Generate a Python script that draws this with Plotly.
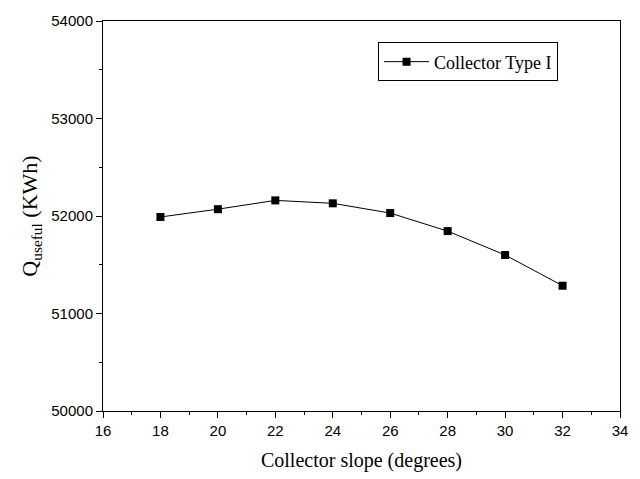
import plotly.graph_objects as go

slope = [18, 20, 22, 24, 26, 28, 30, 32]
q_useful = [51990, 52070, 52160, 52130, 52030, 51845, 51600, 51285]
series_name = "Collector Type I"

fig = go.Figure()
fig.add_trace(go.Scatter(
    x=slope, y=q_useful, mode="lines+markers", name=series_name,
    line=dict(color="black", width=1),
    marker=dict(symbol="square", size=8, color="black"),
))

axis_common = dict(
    showline=True, linecolor="black", linewidth=1, mirror=True,
    ticks="outside", ticklen=6, tickcolor="black", showgrid=False, zeroline=False,
    tickformat="d",
    tickfont=dict(family="Liberation Sans, Arial", size=15, color="black"),
)
fig.update_xaxes(
    range=[16, 34], dtick=2, tick0=16,
    minor=dict(ticks="outside", ticklen=3, dtick=1, tickcolor="black"),
    title=dict(text="Collector slope (degrees)", font=dict(family="Liberation Serif, Times New Roman", size=20, color="black"), standoff=14),
    **axis_common,
)
fig.update_yaxes(
    range=[50000, 54000], dtick=1000,
    minor=dict(ticks="outside", ticklen=3, dtick=500, tickcolor="black"),
    title=dict(text="Q<sub>useful</sub> (KWh)", font=dict(family="Liberation Serif, Times New Roman", size=22, color="black"), standoff=7),
    **axis_common,
)
fig.update_layout(
    width=640, height=479,
    margin=dict(l=103, r=20, t=14, b=68),
    plot_bgcolor="white", paper_bgcolor="white",
    showlegend=True,
    legend=dict(
        x=0.532, y=0.945, xanchor="left", yanchor="top",
        bordercolor="black", borderwidth=1, bgcolor="white",
        itemwidth=45,
        font=dict(family="Liberation Serif, Times New Roman", size=18, color="black"),
    ),
)
fig.write_html("out.html")
